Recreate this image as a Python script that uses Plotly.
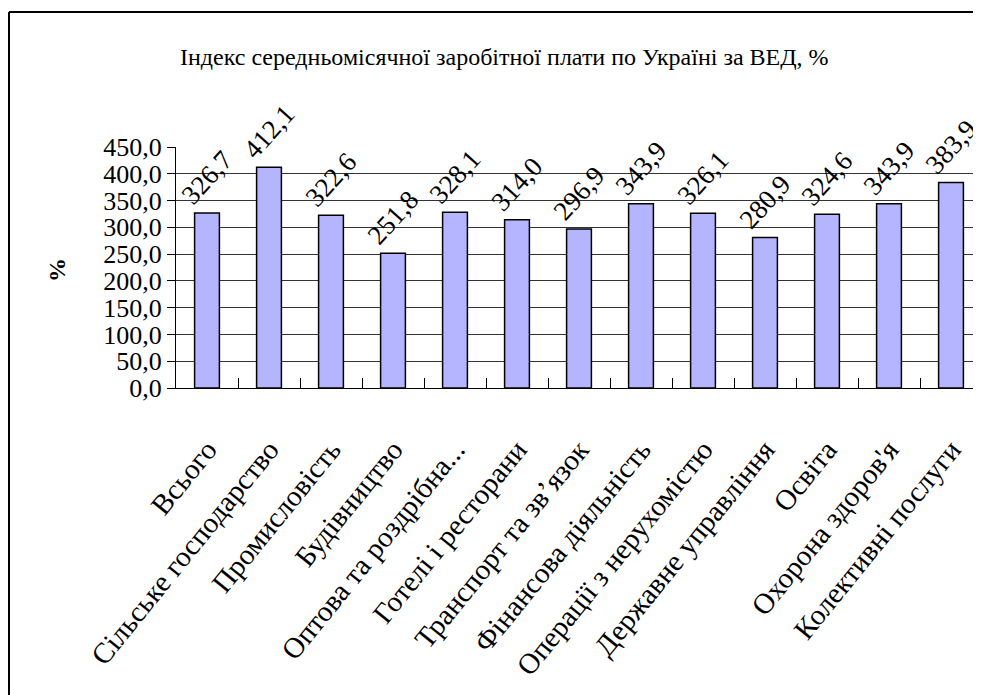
import plotly.graph_objects as go

categories = ["Всього", "Сільське господарство", "Промисловість", "Будівництво",
              "Оптова та роздрібна...", "Готелі і ресторани", "Транспорт та зв’язок",
              "Фінансова діяльність", "Операції з нерухомістю", "Державне управління",
              "Освіта", "Охорона здоров'я", "Колективні послуги"]
values = [326.7, 412.1, 322.6, 251.8, 328.1, 314.0, 296.9, 343.9, 326.1, 280.9, 324.6, 343.9, 383.9]
value_labels = [f"{v:.1f}".replace(".", ",") for v in values]
y_ticks = [0, 50, 100, 150, 200, 250, 300, 350, 400, 450]
y_tick_labels = [f"{t:.1f}".replace(".", ",") for t in y_ticks]
title_text = "Індекс середньомісячної заробітної плати по Україні за ВЕД, %"
y_title = "%"

FONT = "Liberation Serif"
OFF = 8  # page body margin
W, H = 981, 695
L, R, T, B = 176 - OFF, 7, 147 - OFF, 695 - (388 - OFF)
pw, ph = W - L - R, H - T - B

def px_x(x):
    return (x - OFF - L) / pw

def px_y(y):
    return (H - B - (y - OFF)) / ph

fig = go.Figure(go.Bar(
    x=categories, y=values,
    marker=dict(color="#B4B4FF", line=dict(color="black", width=1.5)),
    text=value_labels, textposition="outside", textangle=-48,
    textfont=dict(family=FONT, size=27, color="black"),
    constraintext="none",
    cliponaxis=False,
))

fig.update_layout(
    template="none",
    width=W, height=H,
    margin=dict(l=L, r=R, t=T, b=B, autoexpand=False),
    paper_bgcolor="white", plot_bgcolor="white",
    bargap=0.6, showlegend=False,
    font=dict(family=FONT, color="black"),
    xaxis=dict(
        type="category", tickangle=-51, tickfont=dict(family=FONT, size=29, color="black"),
        showline=True, linecolor="black", linewidth=1, automargin=False,
        ticks="inside", tickson="boundaries", ticklen=10, tickcolor="black",
        ticklabelstandoff=32, showgrid=False,
    ),
    yaxis=dict(
        range=[0, 450], tickvals=y_ticks, ticktext=y_tick_labels,
        tickfont=dict(family=FONT, size=26, color="black"),
        showline=True, linecolor="black", linewidth=1, automargin=False,
        ticks="outside", ticklen=8, tickcolor="black",
        showgrid=True, gridcolor="#333333", gridwidth=1, zeroline=False,
    ),
    annotations=[
        dict(text=title_text, xref="paper", yref="paper", x=px_x(504), y=px_y(57),
             showarrow=False, font=dict(family=FONT, size=24, color="black"),
             xanchor="center", yanchor="middle"),
        dict(text=f"<b>{y_title}</b>", xref="paper", yref="paper", x=px_x(57), y=px_y(270),
             showarrow=False, textangle=-90, font=dict(family=FONT, size=24, color="black"),
             xanchor="center", yanchor="middle"),
    ],
    shapes=[
        dict(type="line", xref="paper", yref="paper", x0=px_x(9), x1=px_x(995),
             y0=px_y(12), y1=px_y(12), line=dict(color="black", width=2)),
        dict(type="line", xref="paper", yref="paper", x0=px_x(9), x1=px_x(9),
             y0=px_y(12), y1=px_y(720), line=dict(color="black", width=2)),
    ],
)

fig.write_html("out.html")
